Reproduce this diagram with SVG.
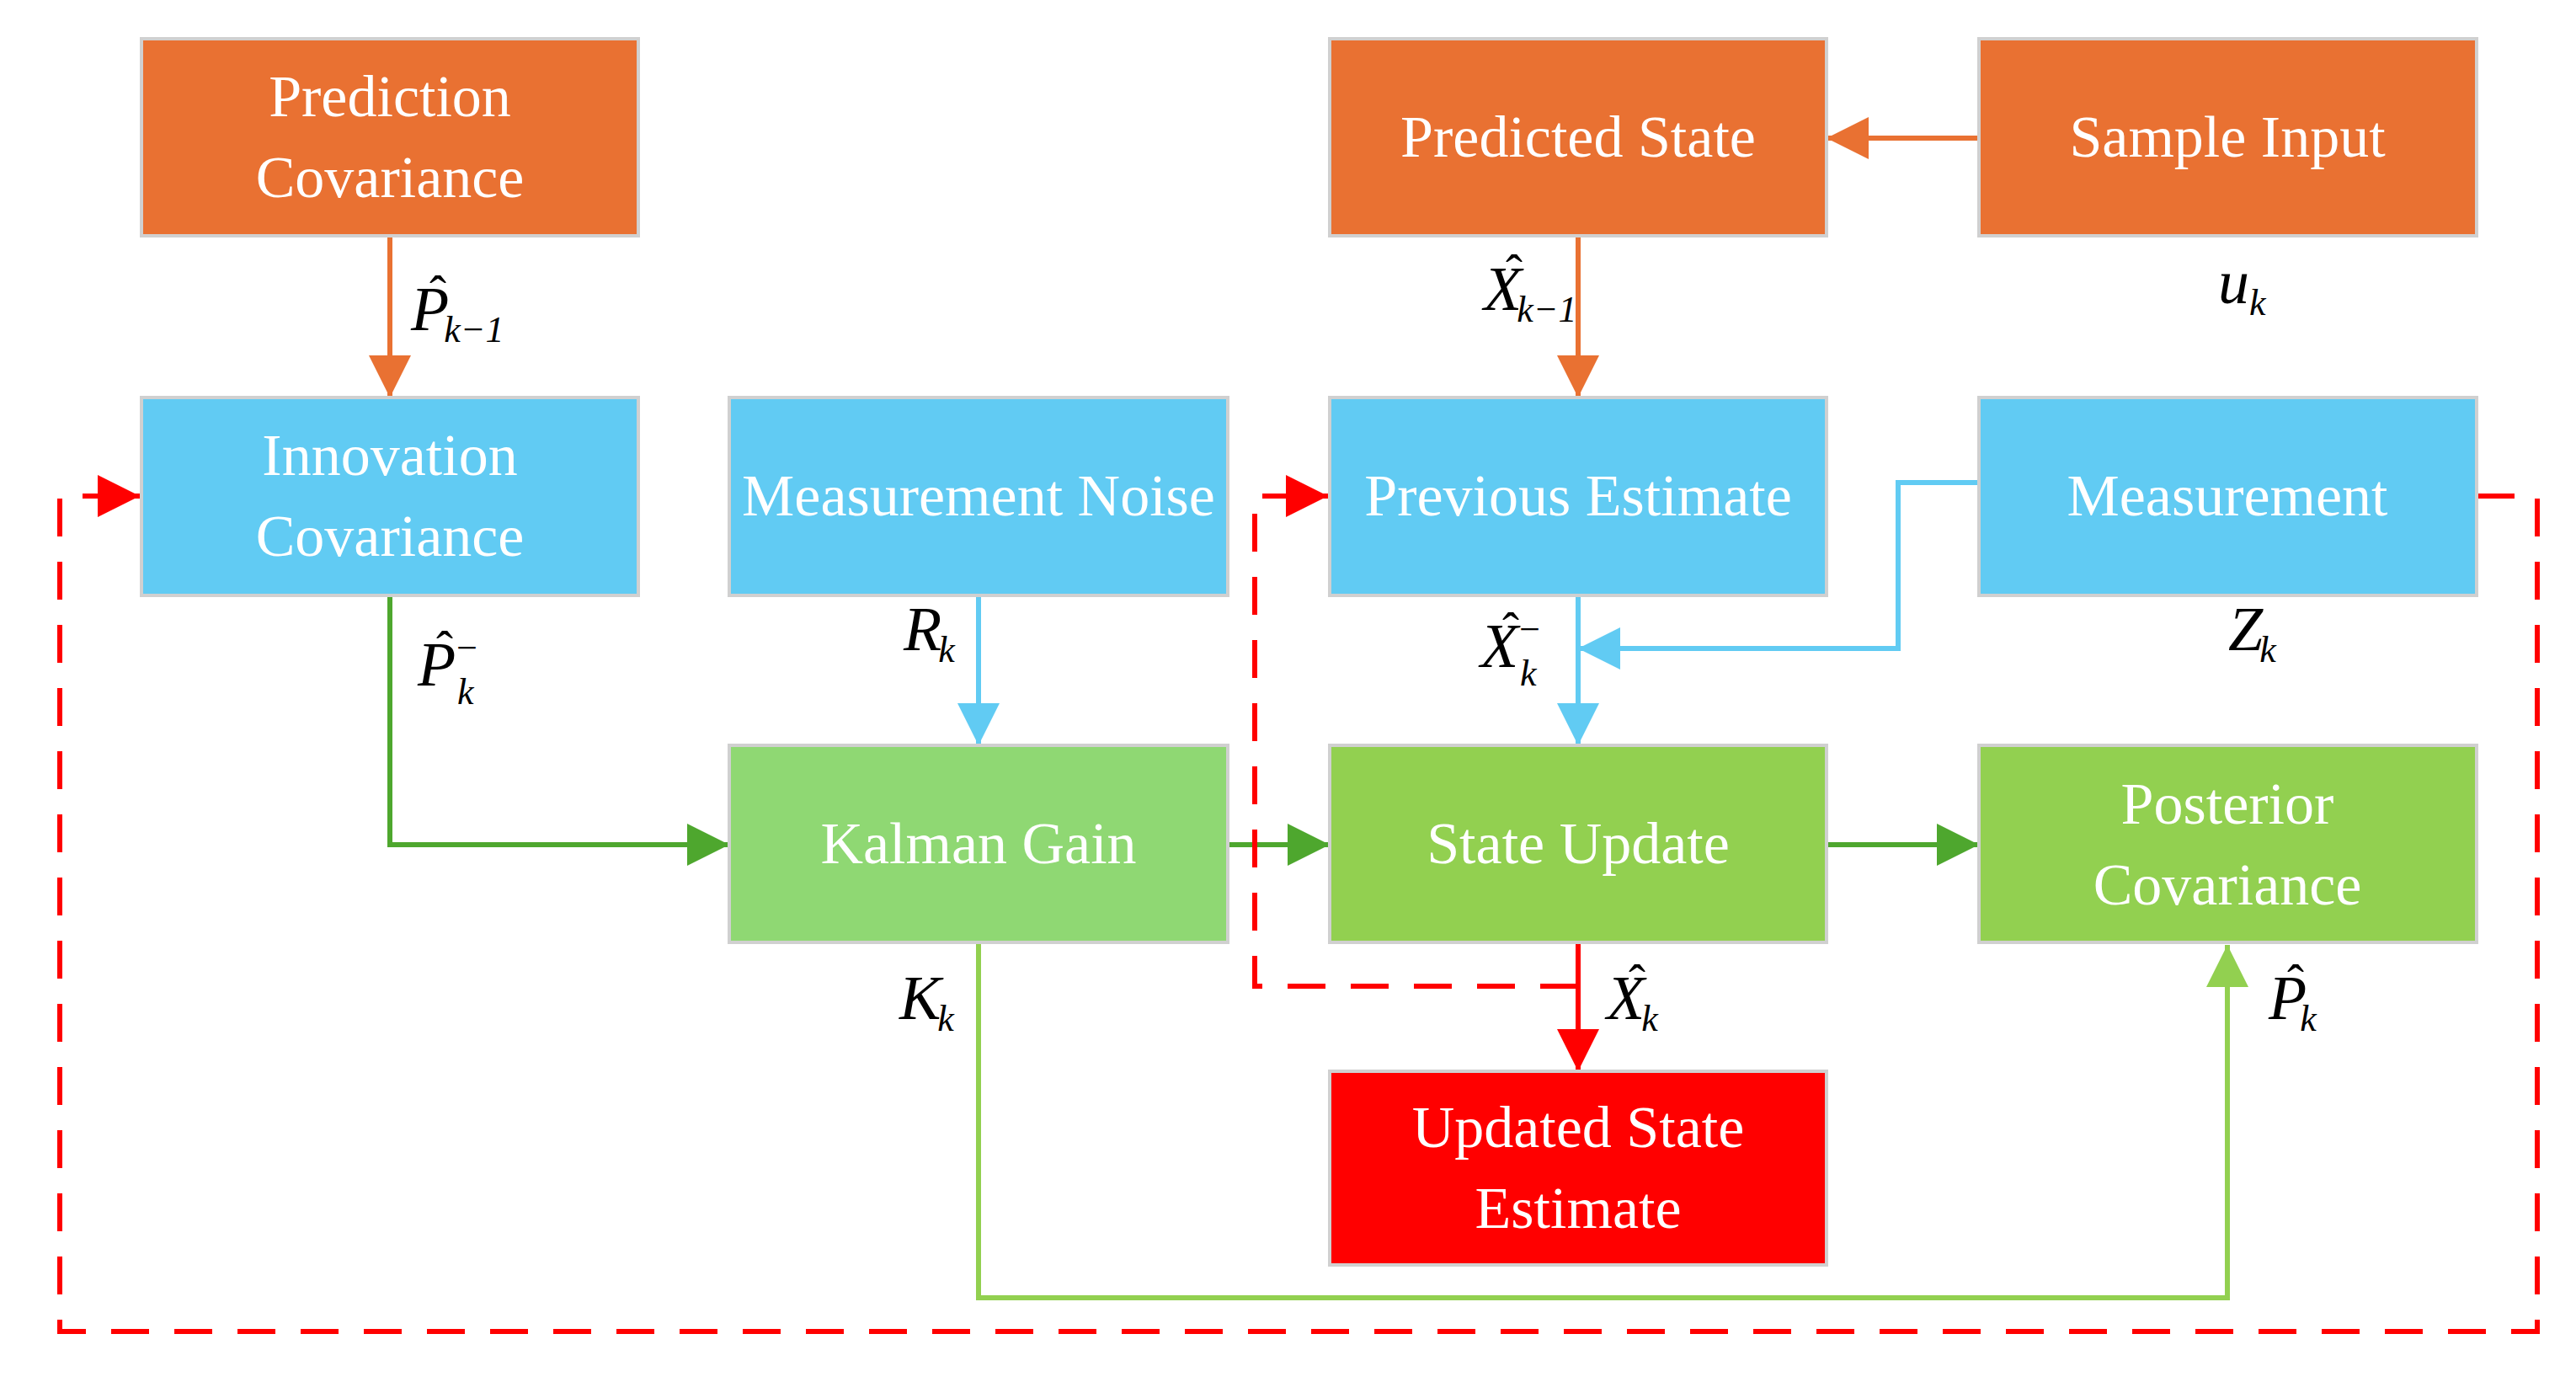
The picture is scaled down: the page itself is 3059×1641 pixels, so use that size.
<svg xmlns="http://www.w3.org/2000/svg" width="3059" height="1641" viewBox="0 0 3059 1641">
<style>
.b{stroke:#d0d0d0;stroke-width:4}
.t{font-family:"Liberation Serif",serif;font-size:70px;fill:#fff;text-anchor:middle}
.m{font-family:"Liberation Serif",serif;font-style:italic;font-size:74px;fill:#000}
.s{font-size:44px}
.h{font-family:"Liberation Serif",serif;font-size:60px;fill:#000;text-anchor:middle}
.c{fill:none;stroke-width:6}
.d{fill:none;stroke:#f00;stroke-width:6;stroke-dasharray:45,30}
</style>
<defs>
<marker id="ab" viewBox="0 0 50 50" refX="50" refY="25" markerWidth="50" markerHeight="50" orient="auto" markerUnits="userSpaceOnUse"><path d="M0,0L50,25L0,50z" fill="#61CBF3"/></marker>
<marker id="ag" viewBox="0 0 50 50" refX="50" refY="25" markerWidth="50" markerHeight="50" orient="auto" markerUnits="userSpaceOnUse"><path d="M0,0L50,25L0,50z" fill="#4EA72E"/></marker>
<marker id="al" viewBox="0 0 50 50" refX="50" refY="25" markerWidth="50" markerHeight="50" orient="auto" markerUnits="userSpaceOnUse"><path d="M0,0L50,25L0,50z" fill="#92D050"/></marker>
<marker id="ar" viewBox="0 0 50 50" refX="50" refY="25" markerWidth="50" markerHeight="50" orient="auto" markerUnits="userSpaceOnUse"><path d="M0,0L50,25L0,50z" fill="#f00"/></marker>
<marker id="aO" viewBox="0 0 50 50" refX="50" refY="25" markerWidth="50" markerHeight="50" orient="auto" markerUnits="userSpaceOnUse"><path d="M0,0L50,25L0,50z" fill="#E97132"/></marker>
</defs>
<rect width="3059" height="1641" fill="#fff"/>
<g id="connectors">
<path class="c" stroke="#E97132" d="M463,280V472" marker-end="url(#aO)"/>
<path class="c" stroke="#E97132" d="M1874,280V472" marker-end="url(#aO)"/>
<path class="c" stroke="#E97132" d="M2350,164H2169" marker-end="url(#aO)"/>
<path class="c" stroke="#61CBF3" d="M1162,707V885" marker-end="url(#ab)"/>
<path class="c" stroke="#61CBF3" d="M1874,707V885" marker-end="url(#ab)"/>
<path class="c" stroke="#61CBF3" d="M2350,573H2254V770H1874" marker-end="url(#ab)"/>
<path class="c" stroke="#4EA72E" d="M463,707V1003H866" marker-end="url(#ag)"/>
<path class="c" stroke="#4EA72E" d="M1458,1003H1579" marker-end="url(#ag)"/>
<path class="c" stroke="#4EA72E" d="M2169,1003H2350" marker-end="url(#ag)"/>
<path class="c" stroke="#92D050" d="M1162,1119V1541H2645V1122" marker-end="url(#al)"/>
<path class="c" stroke="#f00" d="M1874,1119V1272" marker-end="url(#ar)"/>
<path class="d" d="M2941,589H3013V1581H71V589H100"/>
<path class="c" stroke="#f00" d="M100,589H166" marker-end="url(#ar)"/>
<path class="d" d="M1874,1171H1490V589H1520"/>
<path class="c" stroke="#f00" d="M1515,589H1577" marker-end="url(#ar)"/>
</g>
<g id="predcov"><rect class="b" x="168" y="46" width="590" height="234" fill="#E97132"/><text class="t" x="463" y="138">Prediction</text><text class="t" x="463" y="234">Covariance</text></g>
<g id="predstate"><rect class="b" x="1579" y="46" width="590" height="234" fill="#E97132"/><text class="t" x="1874" y="186">Predicted State</text></g>
<g id="sample"><rect class="b" x="2350" y="46" width="591" height="234" fill="#E97132"/><text class="t" x="2645" y="186">Sample Input</text></g>
<g id="innov"><rect class="b" x="168" y="472" width="590" height="235" fill="#61CBF3"/><text class="t" x="463" y="564">Innovation</text><text class="t" x="463" y="660">Covariance</text></g>
<g id="noise"><rect class="b" x="866" y="472" width="592" height="235" fill="#61CBF3"/><text class="t" x="1162" y="612">Measurement Noise</text></g>
<g id="prev"><rect class="b" x="1579" y="472" width="590" height="235" fill="#61CBF3"/><text class="t" x="1874" y="612">Previous Estimate</text></g>
<g id="meas"><rect class="b" x="2350" y="472" width="591" height="235" fill="#61CBF3"/><text class="t" x="2645" y="612">Measurement</text></g>
<g id="kalman"><rect class="b" x="866" y="885" width="592" height="234" fill="#8FD873"/><text class="t" x="1162" y="1025">Kalman Gain</text></g>
<g id="stateupd"><rect class="b" x="1579" y="885" width="590" height="234" fill="#92D050"/><text class="t" x="1874" y="1025">State Update</text></g>
<g id="postcov"><rect class="b" x="2350" y="885" width="591" height="234" fill="#92D050"/><text class="t" x="2645" y="978">Posterior</text><text class="t" x="2645" y="1074">Covariance</text></g>
<g id="updated"><rect class="b" x="1579" y="1272" width="590" height="230" fill="#f00"/><text class="t" x="1874" y="1362">Updated State</text><text class="t" x="1874" y="1458">Estimate</text></g>
<g id="labels">
<text class="m" x="488" y="392">P<tspan class="s" dx="-6" dy="14">k−1</tspan></text><text class="h" x="520" y="368">ˆ</text>
<text class="m" x="1762" y="368">X<tspan class="s" dx="-6" dy="14">k−1</tspan></text><text class="h" x="1798" y="343">ˆ</text>
<text class="m" x="2634" y="360">u<tspan class="s" dy="14">k</tspan></text>
<text class="m" x="496" y="814">P<tspan class="s" dx="-2" dy="-30">−</tspan><tspan class="s" dx="-26" dy="52">k</tspan></text><text class="h" x="528" y="790">ˆ</text>
<text class="m" x="1073" y="772">R<tspan class="s" dx="-4" dy="14">k</tspan></text>
<text class="m" x="1758" y="792">X<tspan class="s" dx="-2" dy="-30">−</tspan><tspan class="s" dx="-26" dy="52">k</tspan></text><text class="h" x="1794" y="768">ˆ</text>
<text class="m" x="2646" y="772">Z<tspan class="s" dx="-4" dy="14">k</tspan></text>
<text class="m" x="1068" y="1210">K<tspan class="s" dx="-4" dy="14">k</tspan></text>
<text class="m" x="1908" y="1210">X<tspan class="s" dx="-4" dy="14">k</tspan></text><text class="h" x="1944" y="1186">ˆ</text>
<text class="m" x="2694" y="1210">P<tspan class="s" dx="-8" dy="14">k</tspan></text><text class="h" x="2726" y="1186">ˆ</text>
</g>
</svg>
